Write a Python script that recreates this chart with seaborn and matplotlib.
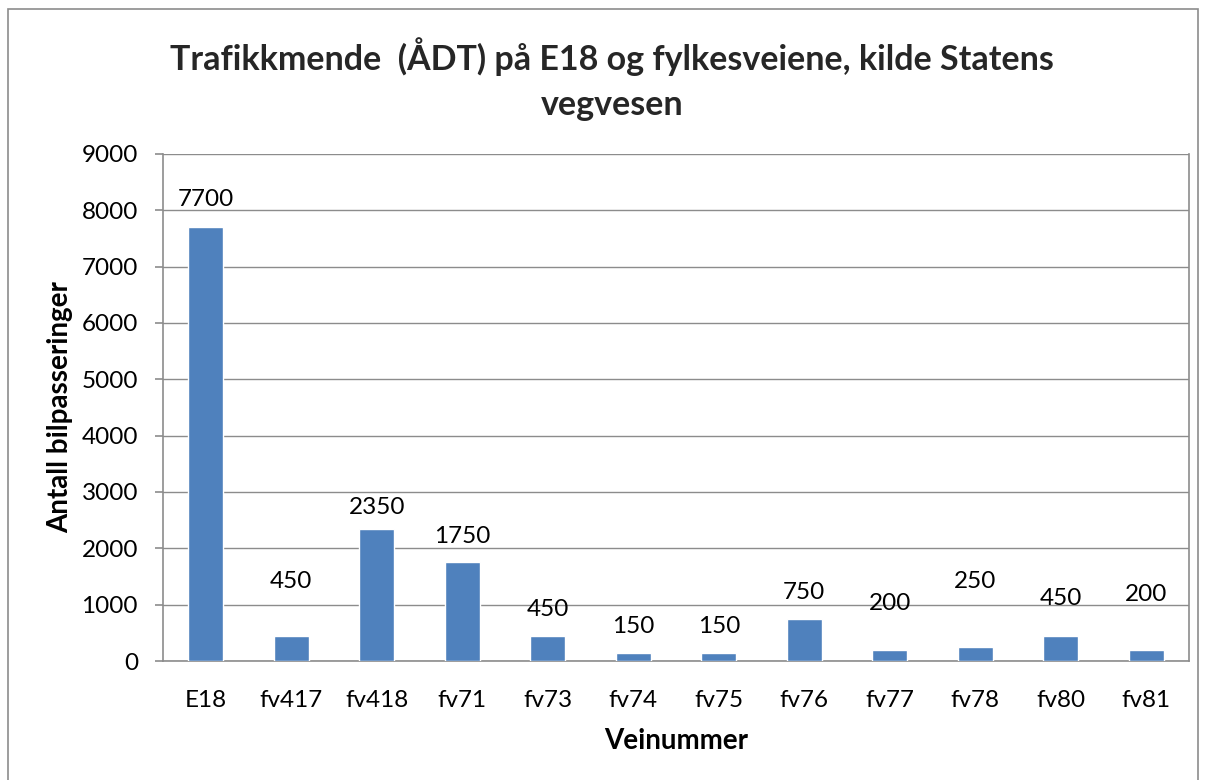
import matplotlib
matplotlib.use("Agg")
import matplotlib.pyplot as plt
import seaborn as sns
import pandas as pd
from matplotlib.patches import Rectangle

roads = ["E18", "fv417", "fv418", "fv71", "fv73", "fv74", "fv75", "fv76", "fv77", "fv78", "fv80", "fv81"]
adt = [7700, 450, 2350, 1750, 450, 150, 150, 750, 200, 250, 450, 200]
# label offset above bar top, in points (styling only)
label_offsets = [20, 39, 15, 19, 19, 19, 19, 19, 33, 47, 27, 40]

df = pd.DataFrame({"Veinummer": roads, "ADT": adt})

sns.set_theme(style="white")
plt.rcParams["font.family"] = ["Lato", "DejaVu Sans"]

fig = plt.figure(figsize=(12.06, 7.8), dpi=100)
W, H = 1206, 780
ax = fig.add_axes([163 / W, 1 - 661 / H, (1189 - 163) / W, (661 - 154) / H])

sns.barplot(data=df, x="Veinummer", y="ADT", color="#4F81BD", width=0.41,
            saturation=1, ax=ax, zorder=3)

ax.set_ylim(0, 9000)
ax.set_xlim(-0.5, len(roads) - 0.5)
ax.set_yticks(range(0, 9001, 1000))
ax.yaxis.grid(True, color="#8C8C8C", linewidth=1.0, zorder=0)
ax.xaxis.grid(False)
for s in ["left", "bottom", "right", "top"]:
    ax.spines[s].set_color("#8C8C8C")
    ax.spines[s].set_linewidth(1.2)
ax.spines["top"].set_visible(False)
ax.tick_params(axis="y", which="both", left=True, length=6, width=1.2, color="#8C8C8C",
               labelsize=17.5, pad=12, labelcolor="black")
ax.tick_params(axis="x", bottom=False, labelsize=17.5, pad=15, labelcolor="black")

for i, (v, off) in enumerate(zip(adt, label_offsets)):
    ax.annotate(f"{v}", xy=(i, v), xytext=(0, off), textcoords="offset points",
                ha="center", va="center", fontsize=17.5, color="black", zorder=5)

ax.set_xlabel("Veinummer", fontsize=20, fontweight="bold", labelpad=12, color="black")
ax.set_ylabel("Antall bilpasseringer", fontsize=20, fontweight="bold", color="black",
              va="center", ha="center")
ax.yaxis.set_label_coords((60 - 163) / (1189 - 163), 0.5)

fig.text(612 / W, 1 - 79 / H, "Trafikkmende  (ÅDT) på E18 og fylkesveiene, kilde Statens\nvegvesen",
         ha="center", va="center", fontsize=24.5, fontweight="bold", linespacing=1.5)

fig.patches.append(Rectangle((8 / W, -0.01), (1198 - 8) / W, 1 - 9 / H + 0.01,
                             transform=fig.transFigure, fill=False,
                             edgecolor="#8C8C8C", linewidth=1.2))

fig.savefig("out.png", dpi=100, facecolor="white")
